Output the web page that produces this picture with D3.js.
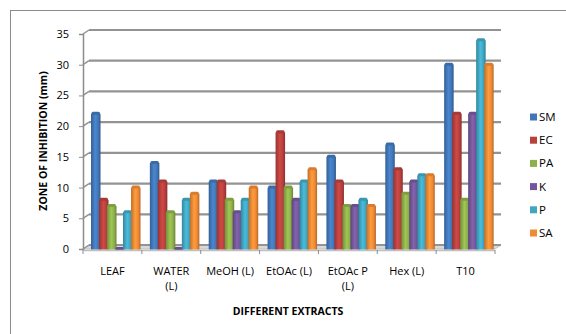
<!DOCTYPE html>
<html><head><meta charset="utf-8">
<script src="https://cdn.jsdelivr.net/npm/d3@7/dist/d3.min.js"></script>
<style>body{margin:0;background:#fff}svg{display:block}text{font-family:"Open Sans","Liberation Sans",sans-serif;fill:#000}</style>
</head><body><svg id="c" width="566" height="334"></svg>
<script>
const categories = ["LEAF","WATER\n(L)","MeOH (L)","EtOAc (L)","EtOAc P\n(L)","Hex (L)","T10"];
const seriesNames = ["SM","EC","PA","K","P","SA"];
const colors = ["#4177B8","#B8403D","#8DB04A","#74579A","#40A6C2","#F08A35"];
const SM = [22,14,11,10,15,17,30];
const EC = [8,11,11,19,11,13,22];
const PA = [7,6,8,10,7,9,8];
const K  = [0,0,6,8,7,11,22];
const P  = [6,8,8,11,8,12,34];
const SA = [10,9,10,13,7,12,30];
const seriesValues = [SM,EC,PA,K,P,SA];
const yTicks = [0,5,10,15,20,25,30,35];

const svg = d3.select("#c");
const defs = svg.append("defs");
colors.forEach((c,i)=>{
  const g = defs.append("linearGradient").attr("id","g"+i).attr("x1","0").attr("x2","1").attr("y1","0").attr("y2","0");
  const col = d3.color(c);
  g.append("stop").attr("offset","0").attr("stop-color",col.darker(0.6));
  g.append("stop").attr("offset","0.45").attr("stop-color",col.brighter(0.35));
  g.append("stop").attr("offset","0.75").attr("stop-color",col);
  g.append("stop").attr("offset","1").attr("stop-color",col.darker(0.8));
});

// outer border
svg.append("rect").attr("x",10.5).attr("y",10.5).attr("width",600).attr("height",400)
  .attr("fill","none").attr("stroke","#8c8c8c").attr("stroke-width",1);

const y = d3.scaleLinear().domain([0,35]).range([249,34]);
const x0 = d3.scaleBand().domain(categories).range([83,495]).padding(0);
const x1 = d3.scaleBand().domain(seriesNames).range([8,56]).padding(0);
const dx = 6, dy = -4;

// floor
svg.append("polygon")
  .attr("points",[[83,y(0)],[495,y(0)],[495+dx,y(0)+dy],[83+dx,y(0)+dy]].map(p=>p.join(",")).join(" "))
  .attr("fill","#d9d9d9").attr("stroke","#bfbfbf");

// back wall gridlines
const grid = svg.append("g");
yTicks.forEach(t=>{
  grid.append("line").attr("x1",83+dx).attr("x2",495+dx).attr("y1",y(t)+dy).attr("y2",y(t)+dy)
    .attr("stroke","#939393").attr("stroke-width",2.2);
  grid.append("line").attr("x1",83).attr("x2",83+dx).attr("y1",y(t)).attr("y2",y(t)+dy)
    .attr("stroke","#939393").attr("stroke-width",1.5);
});

// y axis
const yAxis = d3.axisLeft(y).tickValues(yTicks).tickSize(4).tickPadding(10);
const ya = svg.append("g").attr("transform","translate(83,0)").call(yAxis);
ya.select(".domain").attr("stroke","#8c8c8c").attr("stroke-width",1.5);
ya.selectAll(".tick line").attr("stroke","#8c8c8c");
ya.selectAll(".tick text").style("font-family","'Open Sans',sans-serif").style("font-size","11px").attr("fill","#000");

// bars
const bars = svg.append("g");
categories.forEach((c,ci)=>{
  seriesNames.forEach((s,si)=>{
    const v = seriesValues[si][ci];
    const bx = x0(c)+x1(s), bw = x1.bandwidth()+1.5;
    const top = y(v), h = Math.max(y(0)-top, 0);
    bars.append("rect").attr("x",bx).attr("y",top).attr("width",bw).attr("height",h+0.5)
      .attr("fill","url(#g"+si+")");
    bars.append("rect").attr("x",bx+0.5).attr("y",top-2).attr("width",bw-1).attr("height",3)
      .attr("rx",1.5).attr("fill",d3.color(colors[si]).darker(0.3));
  });
});

// front floor edge + category ticks
svg.append("line").attr("x1",83).attr("x2",495).attr("y1",y(0)+1.5).attr("y2",y(0)+1.5)
  .attr("stroke","#bfbfbf").attr("stroke-width",1.5);
const xAxis = d3.axisBottom(x0).tickSize(0).tickFormat("");
const xa = svg.append("g").attr("transform","translate(0,"+(y(0)+1)+")").call(xAxis);
xa.select(".domain").remove();
const edges = categories.map(c=>x0(c)).concat([495]);
edges.forEach(e=>svg.append("line").attr("x1",e).attr("x2",e).attr("y1",y(0)+1).attr("y2",y(0)+5).attr("stroke","#8c8c8c"));

// category labels
categories.forEach(c=>{
  const t = svg.append("text").attr("text-anchor","middle").style("font-size","11px")
    .attr("x",x0(c)+x0.bandwidth()/2).attr("y",275);
  c.split("\n").forEach((ln,i)=>t.append("tspan").attr("x",x0(c)+x0.bandwidth()/2).attr("dy",i?15:0).text(ln));
});

// titles
svg.append("text").attr("text-anchor","middle").attr("transform","translate(47,141) rotate(-90)")
  .style("font-size","10.5px").style("font-weight","bold").text("ZONE OF INHIBITION (mm)");
svg.append("text").attr("text-anchor","middle").attr("x",288).attr("y",315)
  .style("font-size","10.5px").style("font-weight","bold").text("DIFFERENT EXTRACTS");

// legend
const lg = svg.append("g");
seriesNames.forEach((s,i)=>{
  const ly = 117 + i*23.2;
  lg.append("rect").attr("x",530).attr("y",ly-3.5).attr("width",7).attr("height",7).attr("fill",colors[i]);
  lg.append("text").attr("x",539).attr("y",ly+4).style("font-size","11.5px").text(s);
});
</script></body></html>
